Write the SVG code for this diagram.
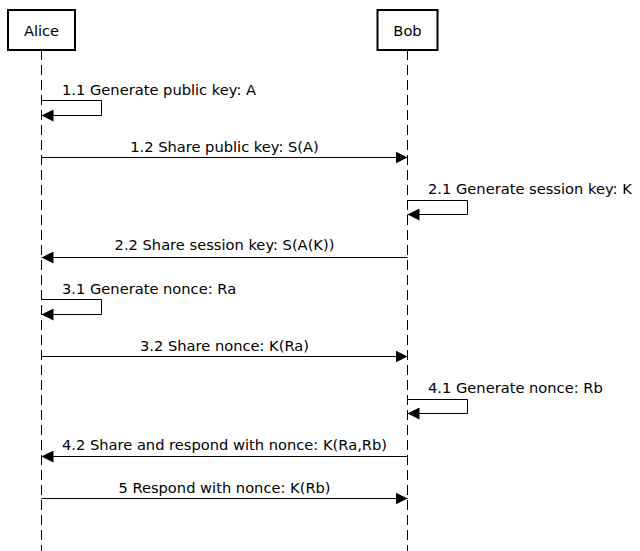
<svg xmlns="http://www.w3.org/2000/svg" width="640" height="551" viewBox="0 0 640 551">
<defs>
<marker id="ah" markerWidth="12" markerHeight="12" refX="12" refY="6" orient="auto" markerUnits="userSpaceOnUse">
<path d="M0,0 L12,6 L0,12 Z" fill="#000"/>
</marker>
<style>
.box{fill:#fff;stroke:#000;stroke-width:2}
.life{stroke:#000;stroke-width:1;stroke-dasharray:10,5;fill:none}
.msg{stroke:#000;stroke-width:1;fill:none;marker-end:url(#ah)}
text{font-family:"DejaVu Sans",sans-serif;font-size:14.67px;fill:#000}
.c{text-anchor:middle}
</style>
</defs>
<rect width="640" height="551" fill="#fff"/>
<g id="alice">
<line class="life" x1="41.5" y1="50" x2="41.5" y2="551"/>
<rect class="box" x="8" y="10" width="67" height="40"/>
<text class="c" x="41.5" y="36">Alice</text>
</g>
<g id="bob">
<line class="life" x1="407.5" y1="50" x2="407.5" y2="551"/>
<rect class="box" x="377.5" y="10" width="60" height="40"/>
<text class="c" x="407.5" y="36">Bob</text>
</g>
<g id="connectors">
<polyline class="msg" points="41.5,100.5 101.5,100.5 101.5,115.5 41.5,115.5"/>
<text x="62" y="95">1.1 Generate public key: A</text>
<line class="msg" x1="41.5" y1="157.5" x2="407.5" y2="157.5"/>
<text class="c" x="224.5" y="152">1.2 Share public key: S(A)</text>
<polyline class="msg" points="407.5,200.5 467.5,200.5 467.5,214.5 407.5,214.5"/>
<text x="428" y="194">2.1 Generate session key: K</text>
<line class="msg" x1="407.5" y1="257.5" x2="41.5" y2="257.5"/>
<text class="c" x="224.5" y="250">2.2 Share session key: S(A(K))</text>
<polyline class="msg" points="41.5,299.5 101.5,299.5 101.5,314.5 41.5,314.5"/>
<text x="62" y="294">3.1 Generate nonce: Ra</text>
<line class="msg" x1="41.5" y1="356.5" x2="407.5" y2="356.5"/>
<text class="c" x="224.5" y="351">3.2 Share nonce: K(Ra)</text>
<polyline class="msg" points="407.5,399.5 467.5,399.5 467.5,413.5 407.5,413.5"/>
<text x="428" y="393">4.1 Generate nonce: Rb</text>
<line class="msg" x1="407.5" y1="456.5" x2="41.5" y2="456.5"/>
<text class="c" x="224.5" y="450">4.2 Share and respond with nonce: K(Ra,Rb)</text>
<line class="msg" x1="41.5" y1="498.5" x2="407.5" y2="498.5"/>
<text class="c" x="224.5" y="493">5 Respond with nonce: K(Rb)</text>
</g>
</svg>
